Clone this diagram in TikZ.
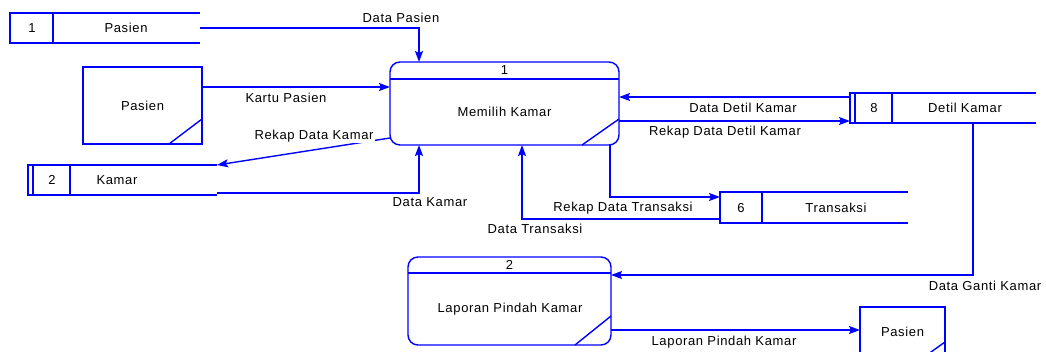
\documentclass[tikz,border=0pt]{standalone}
\usepackage{fontspec}
\setmainfont{Liberation Sans}[LetterSpace=5]
\usetikzlibrary{arrows.meta}
\definecolor{dfd}{RGB}{0,0,255}
\begin{document}
\begin{tikzpicture}[x=1pt,y=-1pt, line width=1.4pt, draw=dfd,
  lbl/.style={font=\fontsize{13}{14}\selectfont, text=black, inner sep=0pt},
  flow/.style={draw=dfd, -{Stealth[length=11pt,width=8pt,inset=2pt]}},
  proc/.style={draw=dfd, rounded corners=10pt, inner sep=0pt, outer sep=0pt},
  ent/.style={draw=dfd, inner sep=0pt, outer sep=0pt},
  shape box/.style={inner sep=0pt, outer sep=0pt}]
\useasboundingbox (0,0) rectangle (1046,351);

% ---------- processes ----------
\node[proc, minimum width=229pt, minimum height=83pt] (p1) at (504.5,103.5) {};
\draw[dfd] (p1.west |- 0,79) -- (p1.east |- 0,79);
\draw[dfd] (p1.south -| 582,0) -- (p1.east |- 0,119);
\node[lbl] (p1num) at (504.5,70) {1};
\node[lbl] (p1txt) at (504.5,112) {Memilih Kamar};

\node[proc, minimum width=203pt, minimum height=88pt] (p2) at (509.5,301) {};
\draw[dfd] (p2.west |- 0,273) -- (p2.east |- 0,273);
\draw[dfd] (p2.south -| 575,0) -- (p2.east |- 0,316);
\node[lbl] (p2num) at (509.5,265) {2};
\node[lbl] (p2txt) at (510,309) {Laporan Pindah Kamar};

% ---------- external entities ----------
\node[ent, minimum width=119pt, minimum height=77pt] (e1) at (142.5,105.5) {};
\draw[dfd] (e1.south -| 169,0) -- (e1.east |- 0,119);
\node[lbl] (e1txt) at (142.5,106) {Pasien};

\node[ent, minimum width=85pt, minimum height=50pt] (e2) at (902.5,332) {};
\draw[dfd] (e2.south -| 924,0) -- (e2.east |- 0,342);
\node[lbl] (e2txt) at (902.5,332) {Pasien};

% ---------- data stores ----------
% store 1
\node[shape box, minimum width=190pt, minimum height=30pt] (s1) at (105,28) {};
\draw[dfd] (s1.north east) -- (s1.north west) -- (s1.south west) -- (s1.south east);
\draw[dfd] (s1.north west -| 53,0) -- (s1.south west -| 53,0);
\node[lbl] (s1num) at (32,28) {1};
\node[lbl] (s1txt) at (126,28) {Pasien};

% store 2
\node[shape box, minimum width=189pt, minimum height=30pt] (s2) at (122.5,180) {};
\draw[dfd] (s2.north east) -- (s2.north west) -- (s2.south west) -- (s2.south east);
\draw[dfd, line width=1.2pt] (s2.north west -| 33,0) -- (s2.south west -| 33,0);
\draw[dfd] (s2.north west -| 70,0) -- (s2.south west -| 70,0);
\node[lbl] (s2num) at (52,180) {2};
\node[lbl] (s2txt) at (117,180) {Kamar};

% store 8
\node[shape box, minimum width=186pt, minimum height=30pt] (s8) at (943,108) {};
\draw[dfd] (s8.north east) -- (s8.north west) -- (s8.south west) -- (s8.south east);
\draw[dfd, line width=1.2pt] (s8.north west -| 855,0) -- (s8.south west -| 855,0);
\draw[dfd] (s8.north west -| 892,0) -- (s8.south west -| 892,0);
\node[lbl] (s8num) at (874,108) {8};
\node[lbl] (s8txt) at (965,108) {Detil Kamar};

% store 6
\node[shape box, minimum width=188pt, minimum height=31pt] (s6) at (814,207.5) {};
\draw[dfd] (s6.north east) -- (s6.north west) -- (s6.south west) -- (s6.south east);
\draw[dfd] (s6.north west -| 762,0) -- (s6.south west -| 762,0);
\node[lbl] (s6num) at (741,208) {6};
\node[lbl] (s6txt) at (836,208) {Transaksi};

% ---------- flows ----------
\draw[flow] (s1.east) -| ([xshift=-85.5pt]p1.north);
\node[lbl] (l1) at (401,18) {Data Pasien};

\draw[flow] (e1.east |- 0,87) -- (p1.west |- 0,87);
\node[lbl] (l2) at (286,98) {Kartu Pasien};

\draw[flow] (p1.west |- 0,138) -- (s2.north east);
\node[lbl, fill=white, inner sep=1pt] (l3) at (314,136) {Rekap Data Kamar};

\draw[flow] (s2.south east |- 0,193) -| ([xshift=-85.5pt]p1.south);
\node[lbl] (l4) at (430,202) {Data Kamar};

\draw[flow] (s8.west |- 0,97) -- (p1.east |- 0,97);
\node[lbl] (l5) at (743,108) {Data Detil Kamar};

\draw[flow] (p1.east |- 0,121) -- (s8.west |- 0,121);
\node[lbl] (l6) at (725,132) {Rekap Data Detil Kamar};

\draw[flow] ([xshift=105.5pt]p1.south) |- (s6.west |- 0,197);
\node[lbl] (l7) at (623,208) {Rekap Data Transaksi};

\draw[flow] (s6.west |- 0,219) -| ([xshift=17.5pt]p1.south);
\node[lbl] (l8) at (535,229) {Data Transaksi};

\draw[flow] (s8.south west -| 973,0) |- (p2.east |- 0,275);
\node[lbl] (l9) at (985,286) {Data Ganti Kamar};

\draw[flow] (p2.east |- 0,330) -- (e2.west |- 0,330);
\node[lbl] (l10) at (724,342) {Laporan Pindah Kamar};
\end{tikzpicture}
\end{document}
